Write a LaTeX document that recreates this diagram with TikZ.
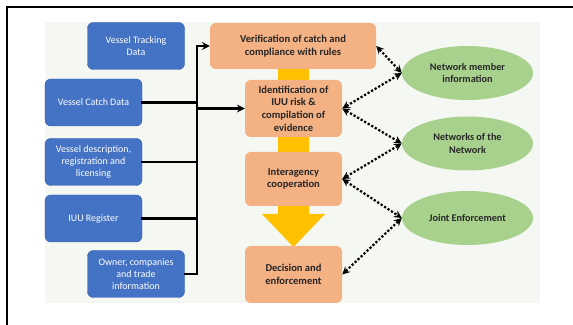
\documentclass[tikz,border=0pt]{standalone}
\usepackage{fontspec}
\setmainfont{Carlito}
\usetikzlibrary{shapes.geometric}
\definecolor{vblue}{HTML}{4472C4}
\definecolor{vblueline}{HTML}{3A62AC}
\definecolor{vorange}{HTML}{F4B183}
\definecolor{vyellow}{HTML}{FFC000}
\definecolor{vgreen}{HTML}{A9D18E}
\definecolor{vpanel}{HTML}{F5F8F2}
\begin{document}
\begin{tikzpicture}[font=\fontsize{8.5}{10.4}\selectfont,>=stealth,x=1cm,y=1cm]
    \tikzset{
        bluebox/.style={draw=vblueline,fill=vblue,text=white,rounded corners=5pt,
            minimum width=2.91cm,minimum height=1.41cm,align=center,inner sep=2pt},
        orangebox/.style={fill=vorange,text=black!85,font=\fontsize{9}{10.8}\selectfont\bfseries,
            rounded corners=5pt,minimum width=2.91cm,align=center,inner sep=2pt},
        greenell/.style={ellipse,fill=vgreen,text=black!85,font=\fontsize{8.7}{10.6}\selectfont\bfseries,
            minimum width=3.93cm,minimum height=1.62cm,align=center,inner sep=1pt},
        bus/.style={line width=1.9pt,line cap=rect},
        link/.style={<->,line width=1.9pt,dash pattern=on 1.9pt off 1.6pt}
    }
    \useasboundingbox (0,0) rectangle (17.19,9.75);

    % frame and panel
    \draw[line width=0.9pt] (17.19,9.54) -- (0.21,9.54) -- (0.21,0);
    \fill[vpanel] (1.35,0.66) rectangle (16.20,9.09);

    % yellow flow arrow
    \fill[vyellow] (8.34,8.00) -- (9.27,8.00) -- (9.27,3.33) -- (9.75,3.33)
        -- (8.805,2.34) -- (7.86,3.33) -- (8.34,3.33) -- cycle;

    % data sources
    \node[bluebox] (track) at (4.08,8.37) {Vessel Tracking\\Data};
    \node[bluebox] (catch) at (2.805,6.675) {Vessel Catch Data};
    \node[bluebox] (descr) at (2.805,4.89) {Vessel description,\\registration and\\licensing};
    \node[bluebox] (iuureg) at (2.805,3.195) {IUU Register};
    \node[bluebox] (owner) at (4.08,1.53) {Owner, companies\\and trade\\information};

    % process
    \node[orangebox,minimum width=4.98cm,minimum height=1.38cm] (verif) at (8.79,8.37)
        {Verification of catch and\\compliance with rules};
    \node[orangebox,minimum height=1.71cm] (ident) at (8.805,6.495)
        {Identification of\\IUU risk \&\\compilation of\\evidence};
    \node[orangebox,minimum height=1.62cm] (inter) at (8.805,4.38)
        {Interagency\\cooperation};
    \node[orangebox,minimum height=1.71cm] (decis) at (8.805,1.515)
        {Decision and\\enforcement};

    % network
    \node[greenell] (member) at (14.025,7.56) {Network member\\information};
    \node[greenell] (netnet) at (14.025,5.445) {Networks of the\\Network};
    \node[greenell] (joint) at (14.025,3.21) {Joint Enforcement};

    % bus
    \coordinate (bustop) at (5.91,8.37);
    \coordinate (busbot) at (5.91,1.53);
    \draw[bus] (bustop) -- (busbot);
    \draw[bus,->] (bustop) -- (verif.west);
    \draw[bus] (catch.east) -- (catch.east -| bustop);
    \draw[bus,->] (ident.west -| bustop) -- (ident.west);
    \draw[bus] (descr.east) -- (descr.east -| bustop);
    \draw[bus] (iuureg.east) -- (iuureg.east -| bustop);
    \draw[bus] (owner.east) -- (busbot);

    % dotted links
    \draw[link] (verif.east) -- (member.west);
    \draw[link] (ident.east) -- (member.west);
    \draw[link] (ident.east) -- (netnet.west);
    \draw[link] (inter.east) -- (netnet.west);
    \draw[link] (inter.east) -- (joint.west);
    \draw[link] (decis.east) -- (joint.west);
\end{tikzpicture}
\end{document}
